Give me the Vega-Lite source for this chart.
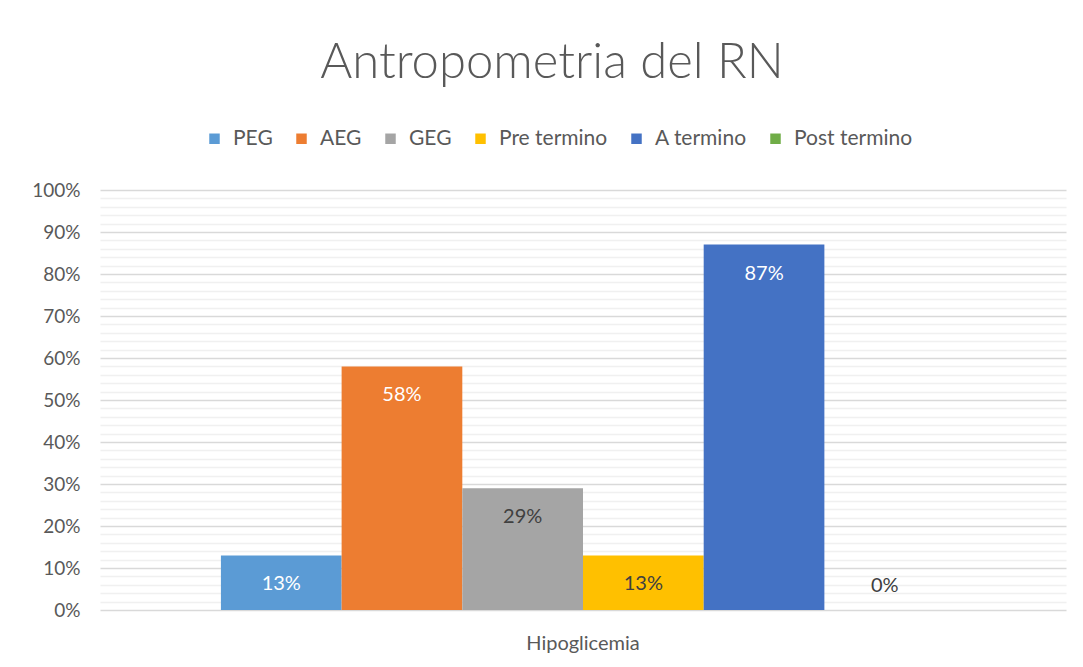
{
  "$schema": "https://vega.github.io/schema/vega-lite/v6.json",
  "width": 966,
  "height": 420,
  "autosize": {"type": "none"},
  "padding": {"left": 100, "top": 190, "right": 17, "bottom": 57},
  "background": "white",
  "title": {
    "text": "Antropometria del RN",
    "font": "Lato",
    "fontSize": 49,
    "fontWeight": 300,
    "color": "#595959",
    "anchor": "middle",
    "frame": "group",
    "dx": -31,
    "offset": 40
  },
  "data": {
    "values": [
      {"category": "Hipoglicemia", "series": "PEG", "value": 0.13},
      {"category": "Hipoglicemia", "series": "AEG", "value": 0.58},
      {"category": "Hipoglicemia", "series": "GEG", "value": 0.29},
      {"category": "Hipoglicemia", "series": "Pre termino", "value": 0.13},
      {"category": "Hipoglicemia", "series": "A termino", "value": 0.87},
      {"category": "Hipoglicemia", "series": "Post termino", "value": 0.0}
    ]
  },
  "encoding": {
    "x": {
      "field": "category",
      "type": "nominal",
      "scale": {"paddingInner": 0, "paddingOuter": 0.167},
      "axis": {
        "title": null,
        "labelAngle": 0,
        "ticks": false,
        "domain": false,
        "labelFont": "Lato",
        "labelFontSize": 20,
        "labelColor": "#595959",
        "labelPadding": 23
      }
    },
    "xOffset": {
      "field": "series",
      "type": "nominal",
      "sort": ["PEG", "AEG", "GEG", "Pre termino", "A termino", "Post termino"],
      "scale": {"paddingInner": 0, "paddingOuter": 0}
    },
    "y": {
      "field": "value",
      "type": "quantitative",
      "scale": {"domain": [0, 1], "nice": false},
      "axis": {
        "title": null,
        "values": [0, 0.02, 0.04, 0.06, 0.08, 0.1, 0.12, 0.14, 0.16, 0.18, 0.2, 0.22, 0.24, 0.26, 0.28, 0.3, 0.32, 0.34, 0.36, 0.38, 0.4, 0.42, 0.44, 0.46, 0.48, 0.5, 0.52, 0.54, 0.56, 0.58, 0.6, 0.62, 0.64, 0.66, 0.68, 0.7, 0.72, 0.74, 0.76, 0.78, 0.8, 0.82, 0.84, 0.86, 0.88, 0.9, 0.92, 0.94, 0.96, 0.98, 1],
        "format": ".0%",
        "labelExpr": "round(datum.value*100) % 10 === 0 ? datum.label : ''",
        "gridColor": {"condition": {"test": "round(datum.value*100) % 10 === 0", "value": "#d9d9d9"}, "value": "#f0f0f0"},
        "gridWidth": 1.6,
        "ticks": false,
        "domain": false,
        "labelFont": "Lato",
        "labelFontSize": 19,
        "labelColor": "#595959",
        "labelPadding": 20
      }
    }
  },
  "layer": [
    {
      "mark": {"type": "bar"},
      "encoding": {
        "color": {
          "field": "series",
          "type": "nominal",
          "sort": ["PEG", "AEG", "GEG", "Pre termino", "A termino", "Post termino"],
          "scale": {
            "domain": ["PEG", "AEG", "GEG", "Pre termino", "A termino", "Post termino"],
            "range": ["#5B9BD5", "#ED7D31", "#A5A5A5", "#FFC000", "#4472C4", "#70AD47"]
          },
          "legend": {
            "title": null,
            "orient": "none",
            "direction": "horizontal",
            "legendX": 104,
            "legendY": -62,
            "symbolType": "square",
            "symbolSize": 110,
            "symbolStrokeWidth": 0,
            "symbolOpacity": 1,
            "labelFont": "Lato",
            "labelFontSize": 21,
            "labelColor": "#595959",
            "labelOffset": 8,
            "columnPadding": 18
          }
        }
      }
    },
    {
      "transform": [{"filter": "datum.value > 0"}],
      "mark": {"type": "text", "font": "Lato", "fontSize": 20, "baseline": "middle", "dy": 29},
      "encoding": {
        "text": {"field": "value", "type": "quantitative", "format": ".0%"},
        "color": {
          "condition": {"test": "datum.series === 'GEG' || datum.series === 'Pre termino' || datum.series === 'Post termino'", "value": "#404040"},
          "value": "#ffffff"
        }
      }
    },
    {
      "transform": [{"filter": "datum.value <= 0"}],
      "mark": {"type": "text", "font": "Lato", "fontSize": 20, "baseline": "middle", "dy": -24, "color": "#404040"},
      "encoding": {
        "text": {"field": "value", "type": "quantitative", "format": ".0%"}
      }
    }
  ],
  "config": {"view": {"stroke": null}}
}
